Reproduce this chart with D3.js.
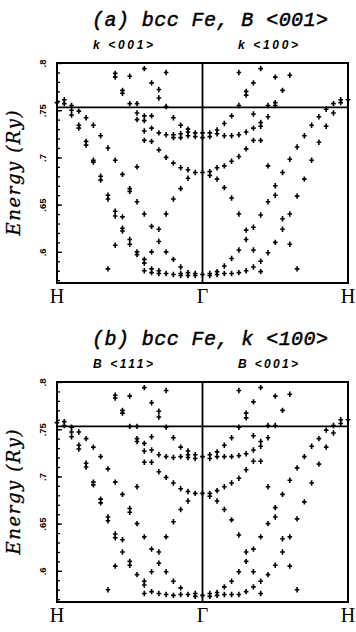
<!DOCTYPE html>
<html>
<head>
<meta charset="utf-8">
<script src="https://cdn.jsdelivr.net/npm/d3@7"></script>
<style>
  body { margin: 0; background: #fff; }
  svg { display: block; }
</style>
</head>
<body>
<svg id="chart" width="356" height="632"></svg>
<script>
// k runs from -20 (H) through 0 (Gamma) to 20 (H); energies in Ry
const energiesA = [
  [-20, [0.758]],
  [-19, [0.761, 0.757]],
  [-18, [0.755, 0.750, 0.745]],
  [-17, [0.749, 0.734, 0.731]],
  [-16, [0.742, 0.717, 0.713]],
  [-15, [0.734, 0.697, 0.695]],
  [-14, [0.723, 0.680, 0.676]],
  [-13, [0.710, 0.660, 0.656, 0.582]],
  [-12, [0.789, 0.785, 0.697, 0.643, 0.638, 0.607]],
  [-11, [0.771, 0.768, 0.682, 0.637, 0.625, 0.622]],
  [-10, [0.786, 0.757, 0.667, 0.664, 0.613, 0.608]],
  [-9, [0.757, 0.747, 0.740, 0.690, 0.653, 0.600, 0.597]],
  [-8, [0.794, 0.744, 0.739, 0.728, 0.718, 0.640, 0.592, 0.588, 0.580]],
  [-7, [0.779, 0.744, 0.731, 0.717, 0.627, 0.600, 0.582, 0.578]],
  [-6, [0.772, 0.763, 0.726, 0.708, 0.624, 0.611, 0.580, 0.577]],
  [-5, [0.790, 0.754, 0.724, 0.700, 0.640, 0.600, 0.577]],
  [-4, [0.742, 0.724, 0.721, 0.694, 0.656, 0.592, 0.576]],
  [-3, [0.734, 0.725, 0.721, 0.689, 0.667, 0.584, 0.577, 0.575]],
  [-2, [0.730, 0.727, 0.723, 0.687, 0.678, 0.578, 0.575]],
  [-1, [0.726, 0.722, 0.684, 0.577, 0.575]],
  [0, [0.726, 0.721, 0.684, 0.576]],
  [1, [0.726, 0.722, 0.685, 0.681, 0.577, 0.575]],
  [2, [0.729, 0.725, 0.689, 0.677, 0.579, 0.576]],
  [3, [0.736, 0.723, 0.691, 0.668, 0.585, 0.577]],
  [4, [0.744, 0.723, 0.696, 0.657, 0.593, 0.577]],
  [5, [0.790, 0.755, 0.724, 0.701, 0.640, 0.602, 0.578]],
  [6, [0.770, 0.766, 0.727, 0.709, 0.623, 0.613, 0.580]],
  [7, [0.779, 0.746, 0.731, 0.718, 0.626, 0.602, 0.584]],
  [8, [0.794, 0.737, 0.733, 0.718, 0.639, 0.590, 0.579]],
  [9, [0.755, 0.743, 0.691, 0.653, 0.599]],
  [10, [0.785, 0.758, 0.755, 0.670, 0.660, 0.610]],
  [11, [0.771, 0.684, 0.635, 0.624]],
  [12, [0.787, 0.698, 0.640, 0.608]],
  [13, [0.711, 0.659, 0.582]],
  [14, [0.723, 0.677]],
  [15, [0.734, 0.697]],
  [16, [0.743, 0.716]],
  [17, [0.751, 0.733]],
  [18, [0.757, 0.747]],
  [19, [0.761, 0.758]],
  [20, [0.761]]
];

const energiesB = [
  [-20, [0.757]],
  [-19, [0.758, 0.754]],
  [-18, [0.752, 0.747, 0.742]],
  [-17, [0.747, 0.733, 0.729]],
  [-16, [0.740, 0.714, 0.710]],
  [-15, [0.731, 0.694, 0.691]],
  [-14, [0.721, 0.676, 0.672]],
  [-13, [0.708, 0.657, 0.653, 0.580]],
  [-12, [0.786, 0.783, 0.694, 0.639, 0.635, 0.605]],
  [-11, [0.770, 0.767, 0.681, 0.633, 0.620]],
  [-10, [0.785, 0.753, 0.666, 0.662, 0.610, 0.606]],
  [-9, [0.753, 0.740, 0.737, 0.689, 0.650, 0.596]],
  [-8, [0.794, 0.735, 0.727, 0.715, 0.636, 0.589, 0.585, 0.576]],
  [-7, [0.778, 0.742, 0.728, 0.715, 0.623, 0.599, 0.578]],
  [-6, [0.769, 0.763, 0.723, 0.705, 0.620, 0.608, 0.576]],
  [-5, [0.791, 0.752, 0.721, 0.699, 0.636, 0.599, 0.575]],
  [-4, [0.741, 0.720, 0.693, 0.652, 0.589, 0.574]],
  [-3, [0.731, 0.721, 0.687, 0.665, 0.582, 0.575]],
  [-2, [0.727, 0.723, 0.720, 0.684, 0.674, 0.575]],
  [-1, [0.723, 0.719, 0.682, 0.576, 0.573]],
  [0, [0.721, 0.682, 0.574]],
  [1, [0.723, 0.719, 0.682, 0.679, 0.576, 0.573]],
  [2, [0.726, 0.721, 0.685, 0.674, 0.577, 0.574]],
  [3, [0.733, 0.721, 0.689, 0.665, 0.583, 0.575]],
  [4, [0.741, 0.721, 0.693, 0.654, 0.589, 0.575]],
  [5, [0.791, 0.752, 0.722, 0.698, 0.638, 0.599, 0.575]],
  [6, [0.767, 0.762, 0.724, 0.707, 0.620, 0.610, 0.578]],
  [7, [0.779, 0.743, 0.728, 0.716, 0.623, 0.599, 0.583]],
  [8, [0.794, 0.737, 0.732, 0.716, 0.636, 0.589, 0.576]],
  [9, [0.754, 0.741, 0.689, 0.650, 0.596]],
  [10, [0.785, 0.754, 0.667, 0.657, 0.606]],
  [11, [0.770, 0.681, 0.634, 0.620]],
  [12, [0.787, 0.696, 0.636, 0.605]],
  [13, [0.709, 0.655, 0.580]],
  [14, [0.721, 0.673]],
  [15, [0.732, 0.693]],
  [16, [0.740, 0.713]],
  [17, [0.749, 0.731]],
  [18, [0.754, 0.746]],
  [19, [0.760, 0.756]],
  [20, [0.760]]
];

const majorTicks = [0.6, 0.65, 0.7, 0.75, 0.8];
const majorTickLabels = ['.6', '.65', '.7', '.75', '.8'];
const kLabelPos = [-20, 0, 20];
const kLabels = ['H', 'Γ', 'H'];
const fermiLevel = 0.753;

const panels = [
  {title: '(a) bcc Fe, B <001>', left: 'k <001>', right: 'k <100>', data: energiesA, top: 63},
  {title: '(b) bcc Fe, k <100>', left: 'B <111>', right: 'B <001>', data: energiesB, top: 382}
];

const plotH = 220;
const svg = d3.select('#chart');
const x = d3.scaleLinear().domain([-20, 20]).range([57, 348]);
const minorTicks = d3.range(57, 80).map(d => d / 100);

panels.forEach((p) => {
  const y = d3.scaleLinear().domain([0.567, 0.8]).range([p.top + plotH, p.top]);
  const g = svg.append('g');

  // minor ticks pointing inwards
  g.append('g')
    .attr('transform', `translate(${x(-20)},0)`)
    .call(d3.axisLeft(y).tickValues(minorTicks).tickSize(-3).tickFormat(''))
    .call(s => s.select('.domain').remove())
    .call(s => s.selectAll('line').attr('stroke-width', 1.3));

  // major ticks with rotated labels
  g.append('g')
    .attr('transform', `translate(${x(-20)},0)`)
    .call(d3.axisLeft(y).tickValues(majorTicks).tickSize(-5)
      .tickFormat((d, i) => majorTickLabels[i]))
    .call(s => s.select('.domain').remove())
    .call(s => s.selectAll('line').attr('stroke-width', 1.3))
    .call(s => s.selectAll('text')
      .attr('x', 0).attr('dy', 0)
      .attr('transform', 'translate(-11,0) rotate(-90)')
      .attr('text-anchor', 'middle')
      .attr('font-family', 'Liberation Sans, sans-serif')
      .attr('font-weight', 'bold')
      .attr('font-size', 9.5)
      .attr('fill', '#000'));

  // frame, Gamma line, Fermi line
  g.append('rect')
    .attr('x', x(-20)).attr('y', y(0.8))
    .attr('width', x(20) - x(-20)).attr('height', y(0.567) - y(0.8))
    .attr('fill', 'none').attr('stroke', '#000').attr('stroke-width', 2);
  g.append('line')
    .attr('x1', x(0)).attr('x2', x(0))
    .attr('y1', y(0.8)).attr('y2', y(0.567))
    .attr('stroke', '#000').attr('stroke-width', 1.8);
  g.append('line')
    .attr('x1', x(-20)).attr('x2', x(20))
    .attr('y1', y(fermiLevel)).attr('y2', y(fermiLevel))
    .attr('stroke', '#000').attr('stroke-width', 1.8);

  // band points as plus signs
  const pts = p.data.flatMap(([k, es]) => es.map(e => [k, e]));
  g.selectAll('path.pt')
    .data(pts)
    .enter()
    .append('path')
    .attr('class', 'pt')
    .attr('d', 'M-2.3,0H2.3M0,-2.7V2.7')
    .attr('transform', d => `translate(${x(d[0])},${y(d[1])})`)
    .attr('stroke', '#000')
    .attr('stroke-width', 1.6)
    .attr('fill', 'none');

  // k point labels
  g.selectAll('text.klab')
    .data(kLabelPos)
    .enter()
    .append('text')
    .attr('class', 'klab')
    .attr('x', d => x(d))
    .attr('y', p.top + plotH + 20)
    .attr('text-anchor', 'middle')
    .attr('font-family', 'Liberation Serif, serif')
    .attr('font-size', 20)
    .text((d, i) => kLabels[i]);

  // axis title
  g.append('text')
    .attr('transform', `translate(20,${p.top + plotH / 2}) rotate(-90)`)
    .attr('text-anchor', 'middle')
    .attr('font-family', 'DejaVu Serif, serif')
    .attr('font-style', 'italic')
    .attr('font-size', 18)
    .attr('stroke', '#000')
    .attr('stroke-width', 0.3)
    .attr('textLength', 125)
    .attr('lengthAdjust', 'spacing')
    .text('Energy (Ry)');

  // panel title and subtitles
  g.append('text')
    .attr('x', 210)
    .attr('y', p.top - 37)
    .attr('text-anchor', 'middle')
    .attr('font-family', 'Liberation Mono, monospace')
    .attr('font-style', 'italic')
    .attr('font-size', 20)
    .attr('stroke', '#000')
    .attr('stroke-width', 0.5)
    .attr('textLength', 236)
    .attr('lengthAdjust', 'spacing')
    .text(p.title);

  [[p.left, 123], [p.right, 268]].forEach(([t, cx]) => {
    g.append('text')
      .attr('x', cx)
      .attr('y', p.top - 14)
      .attr('text-anchor', 'middle')
      .attr('font-family', 'Liberation Sans, sans-serif')
      .attr('font-style', 'italic')
      .attr('font-weight', 'bold')
      .attr('font-size', 12)
      .attr('textLength', 60)
      .attr('lengthAdjust', 'spacing')
      .text(t);
  });
});
</script>
</body>
</html>
